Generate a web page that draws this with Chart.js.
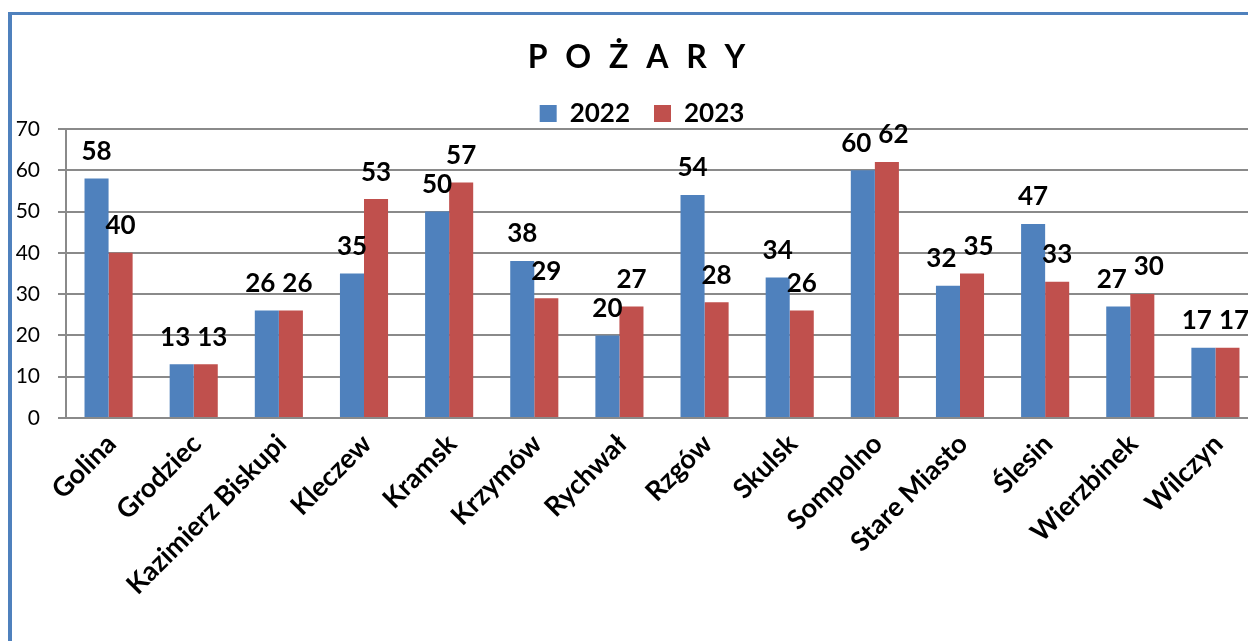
<!DOCTYPE html>
<html>
<head>
<meta charset="utf-8">
<script src="https://cdn.jsdelivr.net/npm/chart.js"></script>
<style>
  html, body { margin: 0; padding: 0; background: #fff; overflow: hidden; width: 1248px; height: 641px; }
  #frame { position: absolute; left: 8px; top: 12px; width: 1300px; height: 700px;
           border-left: 4px solid #4F81BD; border-top: 3px solid #4F81BD; }
  #wrap { position: absolute; left: 8px; top: 0; width: 1250px; height: 641px; }
</style>
</head>
<body>
<div id="frame"></div>
<div id="wrap"><canvas id="myChart" width="1250" height="641"></canvas></div>
<script>
const categories = ['Golina', 'Grodziec', 'Kazimierz Biskupi', 'Kleczew', 'Kramsk', 'Krzymów', 'Rychwał',
  'Rzgów', 'Skulsk', 'Sompolno', 'Stare Miasto', 'Ślesin', 'Wierzbinek', 'Wilczyn'];
const values2022 = [58, 13, 26, 35, 50, 38, 20, 54, 34, 60, 32, 47, 27, 17];
const values2023 = [40, 13, 26, 53, 57, 29, 27, 28, 26, 62, 35, 33, 30, 17];
const seriesLabels = ['2022', '2023'];
const yTicks = [0, 10, 20, 30, 40, 50, 60, 70];

const FONT = 'Lato';
const GRID = '#8a8a8a';

// value labels above every bar, nudged apart when the pair would collide
const barLabels = {
    id: 'barLabels',
    afterDatasetsDraw(chart) {
        const ctx = chart.ctx;
        ctx.save();
        ctx.font = 'bold 26px ' + FONT;
        ctx.fillStyle = '#000';
        ctx.textAlign = 'center';
        ctx.textBaseline = 'middle';
        const a = chart.getDatasetMeta(0).data;
        const b = chart.getDatasetMeta(1).data;
        const d0 = chart.data.datasets[0].data;
        const d1 = chart.data.datasets[1].data;
        for (let j = 0; j < a.length; j++) {
            const t0 = String(d0[j]), t1 = String(d1[j]);
            let x0 = a[j].x, x1 = b[j].x;
            const y0 = a[j].y - 27, y1 = b[j].y - 27;
            const w0 = ctx.measureText(t0).width, w1 = ctx.measureText(t1).width;
            const need = (w0 + w1) / 2 + 7;
            if (Math.abs(y0 - y1) < 22 && x1 - x0 < need) {
                const push = (need - (x1 - x0)) / 2;
                x0 -= push;
                x1 += push;
            }
            ctx.fillText(t0, x0, y0);
            ctx.fillText(t1, x1, y1);
        }
        ctx.restore();
    }
};

// small tweaks to title / legend placement
const layoutTweaks = {
    id: 'layoutTweaks',
    beforeLayout(chart) {
        const lg = chart.legend;
        if (lg && !lg._patched) {
            const fit = lg.fit.bind(lg);
            lg.fit = function () { fit(); this.height = 52.5; };
            lg._patched = true;
        }
        const tb = chart.titleBlock;
        if (tb && !tb._patched) {
            const draw = tb.draw.bind(tb);
            tb.draw = function (area) {
                const c = this.ctx;
                c.save();
                c.letterSpacing = '5px';
                draw(area);
                c.restore();
            };
            tb._patched = true;
        }
    },
    afterLayout(chart) {
        if (chart.legend) { chart.legend.left += 9; chart.legend.right += 9; }
        if (chart.titleBlock) { chart.titleBlock.left += 6; chart.titleBlock.right += 6; }
    }
};

const ctx = document.getElementById('myChart').getContext('2d');
new Chart(ctx, {
    type: 'bar',
    data: {
        labels: categories,
        datasets: [{
            label: seriesLabels[0],
            data: values2022,
            backgroundColor: '#4F81BD'
        }, {
            label: seriesLabels[1],
            data: values2023,
            backgroundColor: '#C0504D'
        }]
    },
    options: {
        responsive: false,
        animation: false,
        devicePixelRatio: 1,
        categoryPercentage: 0.565,
        barPercentage: 1.0,
        layout: { padding: 0 },
        plugins: {
            title: {
                display: true,
                text: 'P O Ż A R Y',
                color: '#000',
                font: { family: FONT, size: 32, weight: 'bold', lineHeight: 1.2 },
                padding: { top: 38, bottom: 0 }
            },
            legend: {
                display: true,
                position: 'top',
                labels: {
                    color: '#000',
                    font: { family: FONT, size: 26, weight: 'bold' },
                    boxWidth: 17,
                    boxHeight: 17,
                    padding: 24
                }
            },
            tooltip: { enabled: false }
        },
        scales: {
            x: {
                grid: { display: false, drawTicks: false },
                border: { display: true, color: GRID, width: 2 },
                ticks: {
                    color: '#000',
                    font: { family: FONT, size: 27, weight: 'bold' },
                    minRotation: 45,
                    maxRotation: 45,
                    autoSkip: false,
                    padding: 10,
                    labelOffset: 3
                },
                afterFit(scale) { scale.height = 223; }
            },
            y: {
                min: 0,
                max: 70,
                afterBuildTicks(scale) { scale.ticks = yTicks.map(v => ({ value: v })); },
                grid: { color: GRID, lineWidth: 2, tickLength: 8, tickColor: GRID },
                border: { display: true, color: GRID, width: 2 },
                ticks: {
                    color: '#000',
                    font: { family: FONT, size: 21 },
                    padding: 18
                },
                afterFit(scale) { scale.width = 58; }
            }
        }
    },
    plugins: [barLabels, layoutTweaks]
});
</script>
</body>
</html>
